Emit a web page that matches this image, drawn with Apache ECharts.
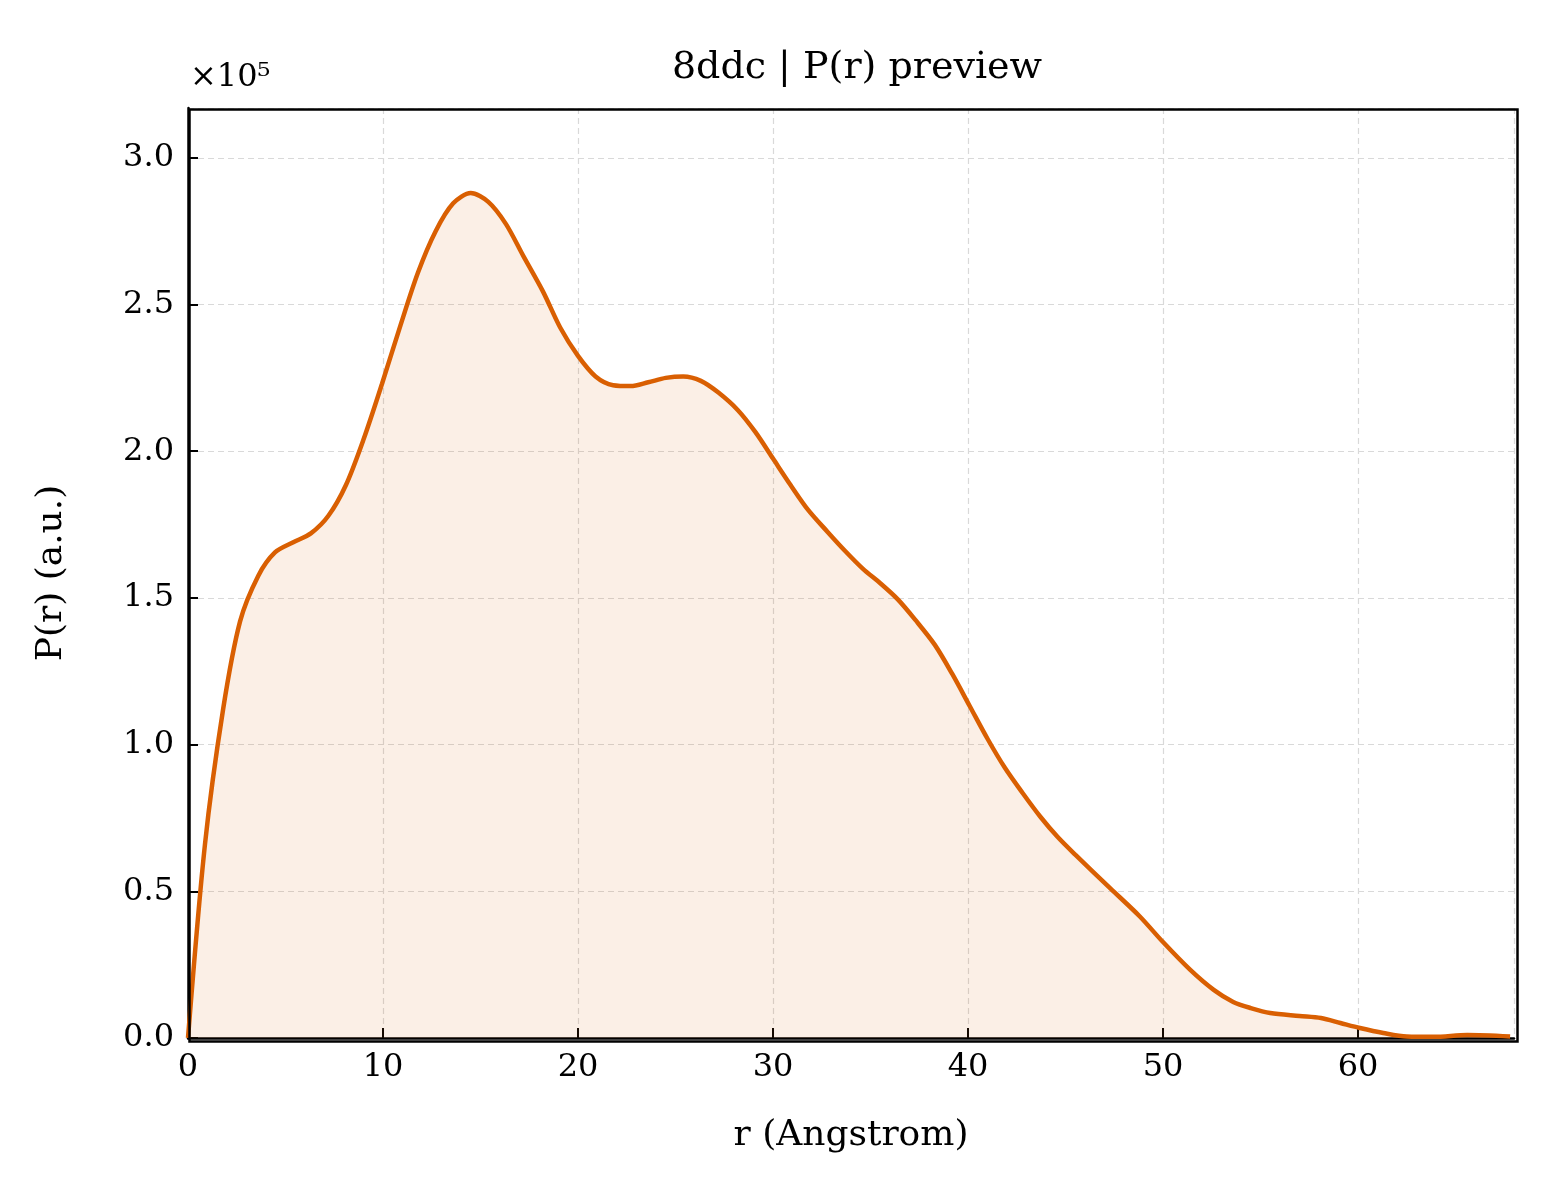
<!DOCTYPE html>
<html><head><meta charset="utf-8">
<script src="https://cdn.jsdelivr.net/npm/echarts@6/dist/echarts.min.js"></script>
<style>body{margin:0;background:#fff}#c{width:1560px;height:1200px}</style>
</head><body><div id="c"></div>
<script>
const rValues = [0,0.87,1.8,2.67,3.6,4.46,5.4,6.3,7.2,8.1,9.0,9.95,10.9,11.8,12.7,13.6,14.5,15.4,16.3,17.2,18.2,19.1,20.0,20.9,21.8,22.7,23.6,24.5,25.4,26.3,27.2,28.2,29.1,30.0,30.9,31.8,32.8,33.7,34.6,35.5,36.4,37.3,38.3,39.2,40.1,41.0,41.9,42.8,43.7,44.6,45.5,47.3,48.8,50.0,51.4,52.6,53.6,54.5,55.5,57.0,58.1,59.1,60.1,61.3,62.5,63.9,65.6,67.8];
const pValues = [0,0.66,1.12,1.42,1.575,1.655,1.69,1.72,1.78,1.885,2.04,2.23,2.43,2.61,2.75,2.845,2.88,2.85,2.775,2.665,2.545,2.42,2.325,2.255,2.225,2.222,2.235,2.25,2.255,2.24,2.20,2.14,2.065,1.975,1.885,1.80,1.725,1.66,1.60,1.55,1.495,1.425,1.34,1.24,1.13,1.02,0.92,0.835,0.755,0.685,0.625,0.51,0.415,0.327,0.232,0.164,0.123,0.102,0.085,0.075,0.068,0.051,0.034,0.017,0.005,0.004,0.01,0.005];
const titleText = '8ddc | P(r) preview';
const xName = 'r (Angstrom)', yName = 'P(r) (a.u.)';
const F = 'DejaVu Serif';
const chart = echarts.init(document.getElementById('c'));
chart.setOption({
  backgroundColor:'#fff',
  animation:false,
  title:{text:titleText,left:852,top:44,textAlign:'center',textStyle:{fontFamily:F,fontWeight:'normal',fontSize:38,color:'#000'}},
  graphic:[
    {type:'text',left:190,top:62,style:{text:'×10⁵',font:'32px "DejaVu Serif"',fill:'#000'}},
    {type:'rect',left:187,top:107,shape:{width:1328,height:932},style:{fill:null,stroke:'#000',lineWidth:2.5},z:100}
  ],
  grid:{left:188,top:108,right:46,bottom:162,show:false},
  xAxis:{type:'value',min:0,max:68,interval:10,name:xName,nameLocation:'middle',nameGap:80,
    nameTextStyle:{fontFamily:F,fontSize:36,color:'#000'},
    axisLine:{show:true,lineStyle:{color:'#000',width:2.5}},
    axisTick:{show:true,inside:true,length:10,lineStyle:{color:'#000',width:2}},
    axisLabel:{fontFamily:F,fontSize:32,color:'#000',margin:14,showMaxLabel:false},
    splitLine:{show:true,lineStyle:{color:'#d9d9d9',type:[6,4],width:1.2}}},
  yAxis:{type:'value',min:0,max:3.17,interval:0.5,name:yName,nameLocation:'middle',nameGap:118,
    nameTextStyle:{fontFamily:F,fontSize:36,color:'#000'},
    axisLine:{show:true,lineStyle:{color:'#000',width:2.5}},
    axisTick:{show:true,inside:true,length:10,lineStyle:{color:'#000',width:2}},
    axisLabel:{fontFamily:F,fontSize:32,color:'#000',margin:14,formatter:v=>v.toFixed(1),showMaxLabel:false},
    splitLine:{show:true,lineStyle:{color:'#d9d9d9',type:[6,4],width:1.2}}},
  series:[{type:'line',data:rValues.map((r,i)=>[r,pValues[i]]),smooth:0.3,showSymbol:false,
    lineStyle:{color:'#d95f02',width:4.5},areaStyle:{color:'rgba(217,95,2,0.14)'}}]
});
</script></body></html>
